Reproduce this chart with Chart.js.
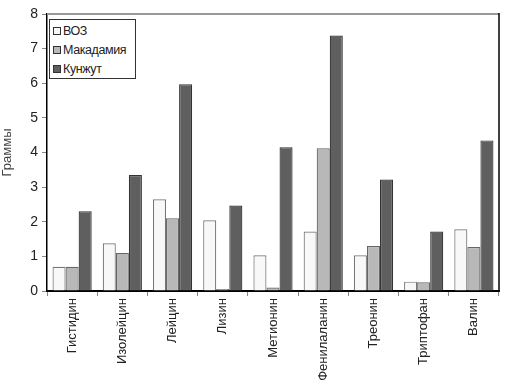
<!DOCTYPE html>
<html><head><meta charset="utf-8">
<script src="https://cdn.jsdelivr.net/npm/chart.js@4/dist/chart.umd.min.js"></script>
<style>
html,body{margin:0;padding:0;background:#fff;}
#wrap{position:relative;width:508px;height:383px;}
#legend{position:absolute;left:49px;top:19px;width:87px;height:60px;border:1px solid #333;background:#fff;box-sizing:border-box;
 font-family:"Liberation Sans",Arial,sans-serif;font-size:12.5px;letter-spacing:-0.4px;color:#222;padding:2px 0 0 3px;}
#legend div{height:19px;line-height:19px;white-space:nowrap;}
#legend span{display:inline-block;width:6px;height:6px;border:1px solid #333;margin-right:2px;vertical-align:0px;}
</style></head>
<body><div id="wrap"><canvas id="c" width="508" height="383"></canvas>
<div id="legend"></div></div>
<script>
const categories = ["Гистидин","Изолейцин","Лейцин","Лизин","Метионин","Фенилаланин","Треонин","Триптофан","Валин"];
const seriesNames = ["ВОЗ","Макадамия","Кунжут"];
const who = [0.7, 1.38, 2.65, 2.04, 1.03, 1.72, 1.03, 0.27, 1.78];
const macadamia = [0.7, 1.1, 2.1, 0.06, 0.1, 4.12, 1.3, 0.25, 1.27];
const sesame = [2.3, 3.35, 5.97, 2.47, 4.15, 7.38, 3.22, 1.72, 4.35];
const yTicks = [0,1,2,3,4,5,6,7,8];
const fills = ["#f8f8f8","#b8b8b8","#5f5f5f"];
const borders = ["#777","#666","#333"];

const lg = document.getElementById('legend');
seriesNames.forEach((n,i)=>{const d=document.createElement('div');d.innerHTML='<span style="background:'+fills[i]+'"></span>'+n;lg.appendChild(d);});

const frame = {id:'frame',afterDraw(ch){const a=ch.chartArea,c=ch.ctx;c.save();
 c.strokeStyle='#999';c.lineWidth=2;c.beginPath();c.moveTo(a.left,a.top);c.lineTo(a.right,a.top);c.stroke();
 c.strokeStyle='#000';c.lineWidth=1.5;c.beginPath();c.moveTo(a.right,a.top-1);c.lineTo(a.right,a.bottom);c.stroke();c.restore();}};

new Chart(document.getElementById('c'),{
 type:'bar',
 data:{labels:categories,datasets:[who,macadamia,sesame].map((d,i)=>({label:seriesNames[i],data:d,backgroundColor:fills[i],borderColor:borders[i],borderWidth:1.2,categoryPercentage:0.78,barPercentage:1}))},
 options:{responsive:false,animation:false,devicePixelRatio:1,
  layout:{padding:{top:14,right:9,left:0,bottom:0}},
  plugins:{legend:{display:false},tooltip:{enabled:false}},
  scales:{
   x:{grid:{drawOnChartArea:false,offset:true,tickLength:5,color:'#888'},border:{color:'#000',width:2},
      ticks:{minRotation:90,maxRotation:90,autoSkip:false,padding:2,color:'#222',font:{family:'"Liberation Sans",Arial,sans-serif',size:13}},
      afterFit(s){s.height=92;}},
   y:{min:0,max:8,grid:{drawOnChartArea:false,tickLength:5,color:'#888'},border:{color:'#000',width:1.5},
      afterBuildTicks(s){s.ticks=yTicks.map(v=>({value:v}));},
      ticks:{padding:4,color:'#222',font:{family:'"Liberation Sans","Arial",sans-serif',size:14}},
      title:{display:true,text:'Граммы',color:'#444',padding:{top:0,bottom:4},font:{family:'"Liberation Sans",Arial,sans-serif',size:13}},
      afterFit(s){s.width=47;}}
  }},
 plugins:[frame]
});
</script></body></html>
